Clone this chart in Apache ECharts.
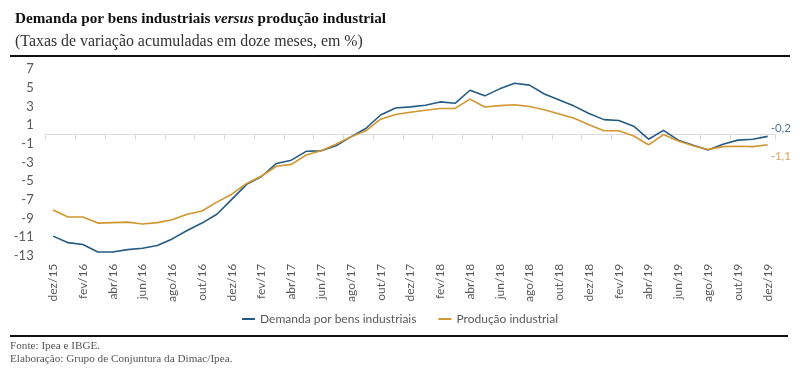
<!DOCTYPE html>
<html>
<head>
<meta charset="utf-8">
<script src="https://cdn.jsdelivr.net/npm/echarts@6/dist/echarts.min.js"></script>
<style>
html,body{margin:0;padding:0;background:#fff;}
#c{width:800px;height:373px;}
</style>
</head>
<body>
<div id="c"></div>
<script>
const categories = ['dez/15','jan/16','fev/16','mar/16','abr/16','mai/16','jun/16','jul/16','ago/16','set/16','out/16','nov/16',
'dez/16','jan/17','fev/17','mar/17','abr/17','mai/17','jun/17','jul/17','ago/17','set/17','out/17','nov/17',
'dez/17','jan/18','fev/18','mar/18','abr/18','mai/18','jun/18','jul/18','ago/18','set/18','out/18','nov/18',
'dez/18','jan/19','fev/19','mar/19','abr/19','mai/19','jun/19','jul/19','ago/19','set/19','out/19','nov/19','dez/19'];

const demanda = [-10.9,-11.6,-11.8,-12.6,-12.6,-12.35,-12.2,-11.9,-11.2,-10.3,-9.5,-8.55,
-6.95,-5.35,-4.5,-3.1,-2.75,-1.8,-1.75,-1.2,-0.25,0.65,2.1,2.85,
2.97,3.15,3.5,3.35,4.75,4.15,4.9,5.5,5.3,4.35,3.7,3.05,
2.25,1.6,1.5,0.9,-0.5,0.45,-0.6,-1.15,-1.65,-1.05,-0.6,-0.5,-0.2];

const producao = [-8.1,-8.85,-8.85,-9.5,-9.45,-9.4,-9.6,-9.45,-9.15,-8.55,-8.2,-7.25,
-6.4,-5.25,-4.45,-3.4,-3.2,-2.2,-1.75,-1.05,-0.25,0.4,1.65,2.15,
2.4,2.6,2.8,2.8,3.8,2.95,3.1,3.2,3.0,2.65,2.2,1.75,
1.05,0.4,0.4,-0.15,-1.1,0.0,-0.7,-1.2,-1.6,-1.3,-1.25,-1.3,-1.1];

const seriesNames = ['Demanda por bens industriais','Produção industrial'];
const endLabels = ['-0,2','-1,1'];
const yMin = -13, yMax = 7, yStep = 2;

const BLUE = '#255b83', ORANGE = '#d0962f';
const SANS = 'Lato';
const SERIF = 'Liberation Serif';

const chart = echarts.init(document.getElementById('c'), null, {renderer:'canvas'});
chart.setOption({
  animation:false,
  backgroundColor:'#fff',
  title:{
    left:10, top:7,
    text:'{b|Demanda por bens industriais }{i|versus}{b| produção industrial}',
    subtext:'(Taxas de variação acumuladas em doze meses, em %)',
    itemGap:7,
    textStyle:{
      rich:{
        b:{fontFamily:SERIF,fontWeight:'bold',fontSize:15.2,color:'#111'},
        i:{fontFamily:SERIF,fontStyle:'italic',fontSize:15.2,color:'#111'}
      }
    },
    subtextStyle:{fontFamily:SERIF,fontSize:15.9,color:'#333'}
  },
  grid:{left:45.7, right:24.9, top:69.3, bottom:117.3, containLabel:false},
  legend:{
    bottom:43, left:'center',
    itemWidth:13, itemHeight:2, itemGap:22, icon:'rect',
    textStyle:{fontFamily:SANS,fontSize:12,color:'#595959'},
    data:seriesNames
  },
  xAxis:[
    {type:'category', data:categories, position:'bottom', boundaryGap:true,
     axisLine:{show:false, onZero:false}, axisTick:{show:false},
     axisLabel:{interval:1, rotate:90, margin:8, fontFamily:SANS, fontSize:12, color:'#595959'}},
    {type:'category', data:categories, position:'top', boundaryGap:true,
     axisLine:{show:true, onZero:true, lineStyle:{color:'#d9d9d9', width:1}},
     axisTick:{show:true, interval:1, inside:true, length:5, lineStyle:{color:'#d9d9d9'}},
     axisLabel:{show:false}}
  ],
  yAxis:{
    type:'value', min:yMin, max:yMax, interval:yStep,
    axisLine:{show:false}, axisTick:{show:false}, splitLine:{show:false},
    axisLabel:{margin:12, fontFamily:SANS, fontSize:13, color:'#595959'}
  },
  series:[
    {name:seriesNames[0], type:'line', data:demanda, xAxisIndex:0, showSymbol:false, symbol:'none',
     lineStyle:{color:BLUE, width:1.6}, itemStyle:{color:BLUE},
     endLabel:{show:true, formatter:endLabels[0], offset:[-5,-8], fontFamily:SANS, fontSize:11.5, color:'#4f7595'}},
    {name:seriesNames[1], type:'line', data:producao, xAxisIndex:0, showSymbol:false, symbol:'none',
     lineStyle:{color:ORANGE, width:1.6}, itemStyle:{color:ORANGE},
     endLabel:{show:true, formatter:endLabels[1], offset:[-5,12], fontFamily:SANS, fontSize:11.5, color:'#d6a45c'}}
  ],
  graphic:[
    {type:'rect', shape:{x:10,y:55,width:780,height:2}, style:{fill:'#111'}},
    {type:'rect', shape:{x:10,y:335,width:778,height:2}, style:{fill:'#111'}},
    {type:'text', left:10, top:341, style:{text:'Fonte: Ipea e IBGE.', font:'11.2px "Liberation Serif"', fill:'#555'}},
    {type:'text', left:10, top:354, style:{text:'Elaboração: Grupo de Conjuntura da Dimac/Ipea.', font:'11.2px "Liberation Serif"', fill:'#555'}}
  ]
});
</script>
</body>
</html>
